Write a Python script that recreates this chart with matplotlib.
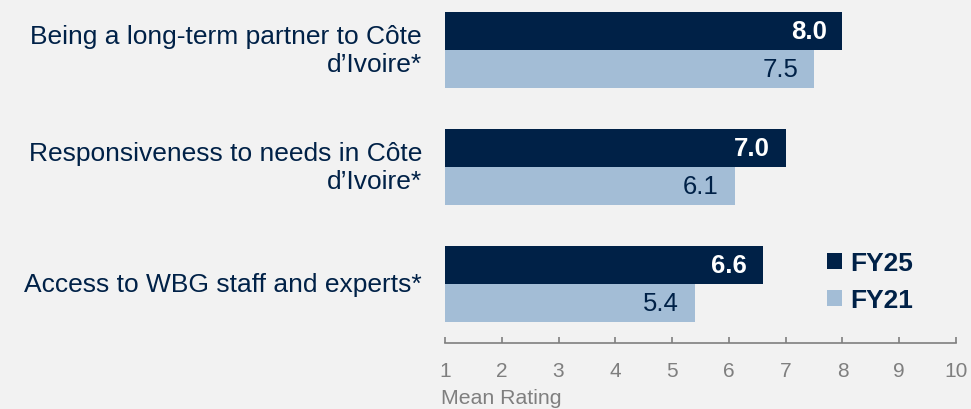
import matplotlib
matplotlib.use("Agg")
import matplotlib.pyplot as plt
import numpy as np

plt.rcParams['font.family'] = ['Liberation Sans', 'DejaVu Sans']

categories = ["Being a long-term partner to Côte\nd\u2019Ivoire*",
              "Responsiveness to needs in Côte\nd\u2019Ivoire*",
              "Access to WBG staff and experts*"]
fy25 = [8.0, 7.0, 6.6]
fy21 = [7.5, 6.1, 5.4]
series_names = ["FY25", "FY21"]

navy = "#002147"
light = "#a3bdd6"
grey = "#7f7f7f"
bg = "#f2f2f2"

fig = plt.figure(figsize=(9.71, 4.10), dpi=100, facecolor=bg)
ax = fig.add_axes([445 / 971, 1 - 344 / 410, (956 - 445) / 971, 344 / 410])
ax.set_facecolor(bg)

y = np.arange(len(categories))
h = 0.325
base = 1
ax.barh(y - h / 2, np.array(fy25) - base, left=base, height=h, color=navy, label=series_names[0])
ax.barh(y + h / 2, np.array(fy21) - base, left=base, height=h, color=light, label=series_names[1])

for i in range(len(categories)):
    ax.text(fy25[i] - 0.28, y[i] - h / 2, f"{fy25[i]:.1f}", ha='right', va='center',
            color='white', fontsize=18.5, fontweight='bold')
    ax.text(fy21[i] - 0.28, y[i] + h / 2, f"{fy21[i]:.1f}", ha='right', va='center',
            color=navy, fontsize=18.5)
    ax.text(-0.045, y[i], categories[i], transform=ax.get_yaxis_transform(),
            ha='right', va='center', color=navy, fontsize=19, linespacing=1.25)

ax.set_xlim(1, 10)
ax.set_ylim(2.504, -0.436)
ax.set_xticks(range(1, 11))
ax.set_yticks([])
for s in ['top', 'right', 'left']:
    ax.spines[s].set_visible(False)
ax.spines['bottom'].set_color(grey)
ax.spines['bottom'].set_linewidth(1.2)
ax.tick_params(axis='x', direction='in', length=4, color=grey, width=1.2,
               labelcolor=grey, labelsize=15, pad=13)

fig.text(441 / 971, 1 - 399 / 410, "Mean Rating", color=grey, fontsize=15.3,
         ha='left', va='center')

leg = ax.legend(loc='upper left', bbox_to_anchor=(0.702, 0.336), frameon=False,
                handlelength=0.55, handleheight=0.55, handletextpad=0.3,
                labelspacing=0.5, fontsize=19)
for t in leg.get_texts():
    t.set_color(navy)
    t.set_fontweight('bold')

fig.savefig("out.png", dpi=100, facecolor=bg)
